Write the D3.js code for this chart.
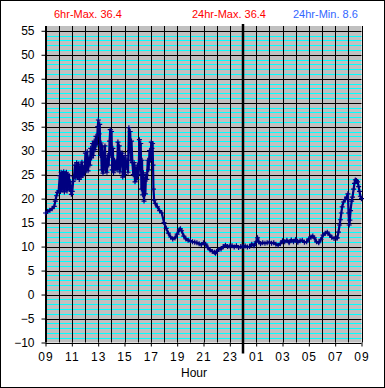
<!DOCTYPE html>
<html>
<head>
<meta charset="utf-8">
<script src="https://cdn.jsdelivr.net/npm/d3@7"></script>
<style>
  body { margin: 0; background: #fff; }
  svg { display: block; font-family: "Liberation Sans", Arial, sans-serif; }
</style>
</head>
<body>
<svg width="385" height="388"></svg>
<script>
// minutes since 09:00 and temperature readings
var minutes = [0, 10, 20, 30, 40, 45, 50, 55, 60, 65, 68, 71, 74, 77, 80, 83, 86, 89, 92, 95, 98, 101, 104, 107, 110, 113, 118, 122, 126, 130,
  134, 138, 142, 146, 150, 154, 158, 162, 166, 170, 174, 178, 182, 186, 190, 194, 198, 202, 206, 210, 214, 218, 222, 226, 230, 234, 238, 241, 244, 247,
  250, 253, 256, 259, 262, 265, 268, 271, 274, 277, 280, 284, 288, 292, 295, 298, 301, 304, 307, 310, 314, 318, 322, 326, 330, 333, 336, 339, 342, 345,
  349, 352, 356, 360, 364, 368, 372, 376, 380, 383, 386, 389, 392, 396, 400, 404, 408, 412, 416, 420, 424, 428, 431, 434, 437, 440, 443, 446, 449, 452,
  455, 458, 462, 466, 470, 474, 478, 482, 485, 488, 490, 492, 495, 500, 510, 520, 530, 540, 550, 560, 570, 580, 590, 600, 610, 615, 620, 630, 640, 650,
  660, 670, 680, 690, 700, 710, 720, 730, 740, 750, 760, 770, 775, 780, 790, 800, 810, 820, 830, 840, 850, 860, 870, 880, 890, 900, 910, 920, 930, 940,
  950, 960, 966, 972, 980, 990, 1000, 1010, 1020, 1030, 1040, 1050, 1060, 1070, 1080, 1090, 1100, 1110, 1120, 1130, 1140, 1150, 1160, 1170, 1180, 1190, 1200, 1210, 1218, 1225,
  1235, 1245, 1255, 1265, 1275, 1284, 1295, 1305, 1315, 1325, 1330, 1335, 1340, 1344, 1348, 1352, 1358, 1365, 1372, 1378, 1381, 1384, 1387, 1390, 1395, 1399, 1404, 1408, 1412, 1417,
  1422, 1427, 1431, 1435, 1440];
var temps = [17.0, 17.3, 17.6, 17.9, 18.4, 19.5, 20.6, 21.3, 21.6, 24.8, 21.5, 25.5, 21.8, 25.3, 22.0, 25.6, 21.4, 25.2, 22.3, 25.5, 21.6, 25.0, 22.5, 24.8, 21.9, 23.5, 20.9, 21.5, 23.6, 24.6,
  27.0, 24.3, 27.5, 24.6, 27.2, 24.0, 26.8, 24.5, 27.6, 24.8, 26.5, 25.4, 29.5, 26.0, 29.8, 25.8, 28.5, 27.0, 30.5, 28.5, 31.5, 29.0, 32.0, 30.2, 33.0, 31.2, 35.0, 36.4, 33.5, 35.5,
  29.0, 31.6, 26.0, 30.8, 25.3, 29.5, 26.5, 31.0, 25.8, 28.0, 25.5, 29.0, 27.0, 32.0, 34.4, 29.0, 34.0, 26.0, 30.5, 25.4, 28.0, 26.2, 27.8, 26.0, 31.8, 26.5, 31.0, 25.6, 29.5, 27.0,
  29.5, 24.5, 28.5, 25.0, 29.0, 26.5, 28.0, 25.5, 34.8, 30.0, 34.0, 28.0, 32.0, 27.5, 25.0, 27.5, 23.5, 26.5, 24.0, 27.0, 25.0, 32.3, 26.0, 31.5, 22.0, 28.0, 20.8, 25.4, 19.5, 24.0,
  21.0, 25.0, 24.0, 28.0, 26.0, 30.0, 28.0, 31.8, 30.5, 31.5, 27.0, 22.0, 19.7, 19.0, 18.3, 17.5, 17.0, 15.0, 13.8, 12.8, 12.0, 11.6, 11.8, 12.6, 13.5, 13.7, 13.3, 12.2, 11.6, 11.3,
  11.2, 11.0, 10.9, 10.8, 10.6, 10.4, 10.8, 10.5, 9.8, 9.3, 9.0, 8.8, 8.6, 9.0, 9.4, 9.5, 10.0, 10.3, 10.0, 10.1, 10.2, 9.9, 10.2, 9.8, 10.0, 10.0, 10.1, 9.9, 10.0, 10.5,
  10.2, 11.0, 11.8, 11.0, 10.6, 10.8, 10.7, 10.8, 10.9, 10.7, 10.8, 10.5, 10.3, 10.6, 11.2, 11.0, 11.3, 10.8, 11.4, 11.0, 11.5, 10.9, 11.2, 11.3, 10.9, 11.0, 11.6, 12.0, 12.2, 11.8,
  11.0, 10.8, 11.5, 12.4, 12.8, 13.0, 12.4, 11.9, 11.7, 11.8, 11.8, 13.0, 14.5, 15.6, 17.0, 18.3, 19.3, 19.8, 20.3, 21.0, 17.0, 14.5, 15.5, 17.5, 19.5, 20.3, 22.0, 23.2, 23.9, 23.8,
  23.5, 22.5, 21.5, 20.5, 20.0];

var yTicks = d3.range(-10, 56, 5);
var xTicks = d3.range(0, 1441, 120);
var midnight = 900;
var labels = [
  { text: "6hr-Max. 36.4", x: 54, color: "#ff0000" },
  { text: "24hr-Max. 36.4", x: 192, color: "#ff0000" },
  { text: "24hr-Min. 8.6", x: 293, color: "#3366ff" }
];

(function () {
  var svg = d3.select("svg");
  var pLeft = 45.5, pRight = 361.5, pTop = 26, pBottom = 342.5;

  var x = d3.scaleLinear().domain([0, 1440]).range([pLeft, pRight]);
  var y = d3.scaleLinear().domain([-10, 56]).range([pBottom, pTop]);

  svg.append("rect")
    .attr("x", 0.5).attr("y", 0.5).attr("width", 384).attr("height", 387)
    .attr("fill", "#fff").attr("stroke", "#000");

  svg.append("rect")
    .attr("x", pLeft).attr("y", pTop)
    .attr("width", pRight - pLeft).attr("height", pBottom - pTop)
    .attr("fill", "#c0c0c0");

  // cyan minor lines each degree
  svg.append("g").selectAll("line")
    .data(d3.range(-9, 56).filter(function (d) { return d % 5 !== 0; }))
    .enter().append("line")
    .attr("x1", pLeft).attr("x2", pRight)
    .attr("y1", function (d) { return Math.round(y(d)) + 0.5; })
    .attr("y2", function (d) { return Math.round(y(d)) + 0.5; })
    .attr("stroke", "#00ffff");

  // black major lines
  svg.append("g").selectAll("line")
    .data(yTicks)
    .enter().append("line")
    .attr("x1", pLeft).attr("x2", pRight)
    .attr("y1", function (d) { return Math.round(y(d)) + 0.5; })
    .attr("y2", function (d) { return Math.round(y(d)) + 0.5; })
    .attr("stroke", "#000");

  // hourly vertical lines
  svg.append("g").selectAll("line")
    .data(d3.range(0, 1441, 60))
    .enter().append("line")
    .attr("x1", function (d) { return Math.round(x(d)) + 0.5; })
    .attr("x2", function (d) { return Math.round(x(d)) + 0.5; })
    .attr("y1", pTop).attr("y2", pBottom)
    .attr("stroke", "#000");

  var yAxis = svg.append("g")
    .attr("transform", "translate(" + pLeft + ",0)")
    .call(d3.axisLeft(y).tickValues(yTicks).tickSize(4).tickPadding(7));
  yAxis.select(".domain").attr("d", "M0," + pTop + "V" + pBottom);

  var xAxis = svg.append("g")
    .attr("transform", "translate(0," + pBottom + ")")
    .call(d3.axisBottom(x).tickValues(xTicks).tickSize(4).tickPadding(6)
      .tickFormat(function (d) { return d3.format("02d")((9 + d / 60) % 24); }));
  xAxis.select(".domain").remove();

  svg.selectAll(".tick text")
    .attr("font-size", 12).attr("fill", "#000")
    .attr("font-family", "Liberation Sans, Arial, sans-serif");
  xAxis.selectAll(".tick text").attr("letter-spacing", 1);

  // midnight marker
  svg.append("line")
    .attr("x1", x(midnight)).attr("x2", x(midnight))
    .attr("y1", pTop - 2).attr("y2", pBottom + 11)
    .attr("stroke", "#000").attr("stroke-width", 2.5);

  var line = d3.line()
    .x(function (d, i) { return x(minutes[i]); })
    .y(function (d) { return y(d); });

  svg.append("path")
    .datum(temps)
    .attr("d", line)
    .attr("fill", "none")
    .attr("stroke", "#000080")
    .attr("stroke-width", 2.2);

  // plus markers
  svg.append("g").selectAll("path")
    .data(temps)
    .enter().append("path")
    .attr("d", "M-2.5,0H2.5M0,-2.5V2.5")
    .attr("transform", function (d, i) {
      return "translate(" + x(minutes[i]) + "," + y(d) + ")";
    })
    .attr("fill", "none")
    .attr("stroke", "#000080")
    .attr("stroke-width", 1.2);

  svg.selectAll(".label")
    .data(labels)
    .enter().append("text")
    .attr("class", "label")
    .attr("x", function (d) { return d.x; })
    .attr("y", 18)
    .attr("font-size", 11)
    .attr("fill", function (d) { return d.color; })
    .text(function (d) { return d.text; });

  svg.append("text")
    .attr("x", 194).attr("y", 377)
    .attr("text-anchor", "middle")
    .attr("font-size", 12)
    .text("Hour");
}());
</script>
</body>
</html>
